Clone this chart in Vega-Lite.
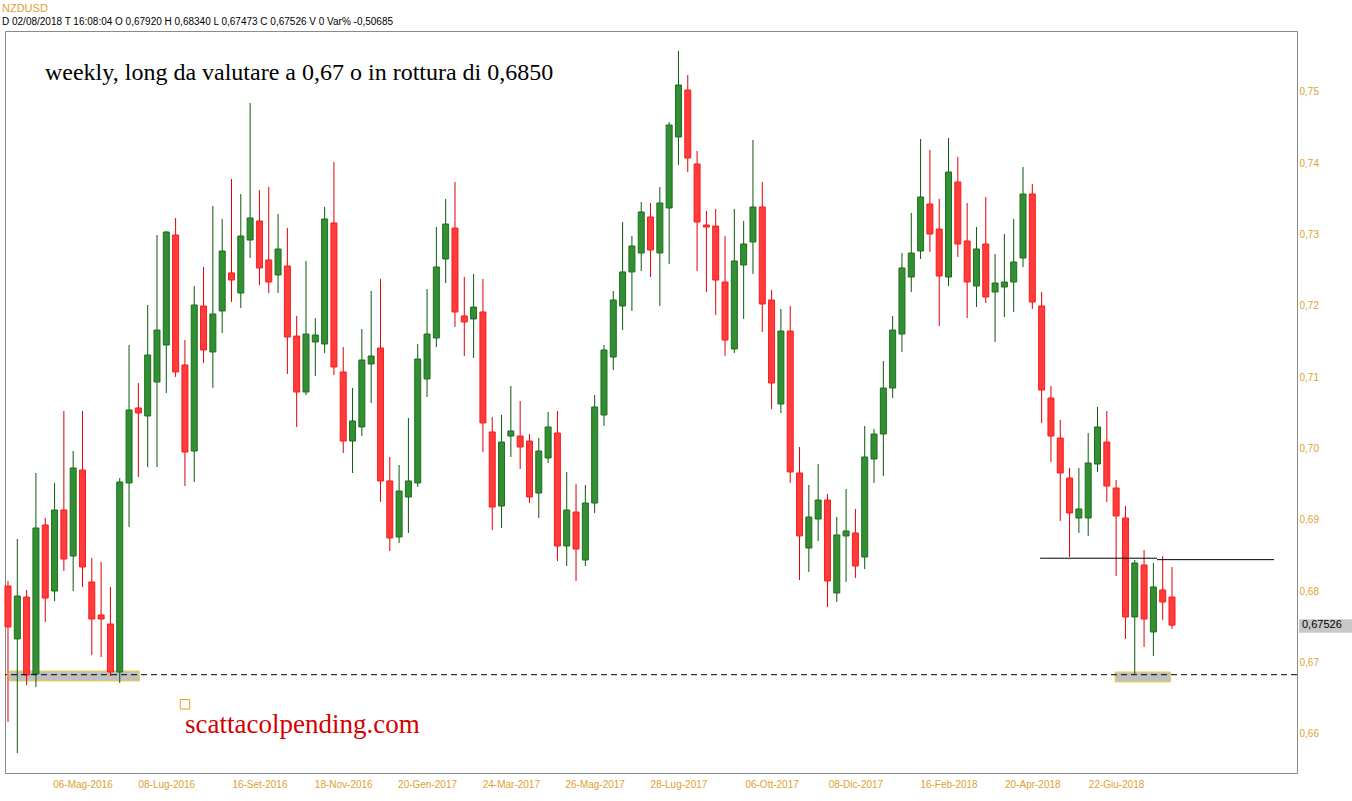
{
  "$schema": "https://vega.github.io/schema/vega-lite/v6.json",
  "width": 1292,
  "height": 742,
  "autosize": {"type": "none"},
  "padding": {"left": 5, "top": 31, "right": 55, "bottom": 28},
  "background": "white",
  "title": {
    "text": "NZDUSD",
    "subtitle": "D 02/08/2018  T 16:08:04  O 0,67920  H 0,68340  L 0,67473  C 0,67526  V 0  Var% -0,50685",
    "anchor": "start", "frame": "group", "orient": "top", "offset": 4, "dx": -3,
    "color": "#E0A030", "font": "Liberation Sans", "fontSize": 11, "fontWeight": "normal",
    "subtitleColor": "#000000", "subtitleFont": "Liberation Sans", "subtitleFontSize": 10, "subtitlePadding": 3
  },
  "config": {
    "view": {"stroke": "#8a8a8a", "strokeWidth": 1},
    "locale": {
      "number": {"decimal": ",", "thousands": ".", "grouping": [3], "currency": ["", " €"]},
      "time": {
        "dateTime": "%A %e %B %Y, %X", "date": "%d/%m/%Y", "time": "%H:%M:%S", "periods": ["AM", "PM"],
        "days": ["Domenica", "Lunedì", "Martedì", "Mercoledì", "Giovedì", "Venerdì", "Sabato"],
        "shortDays": ["Dom", "Lun", "Mar", "Mer", "Gio", "Ven", "Sab"],
        "months": ["Gennaio", "Febbraio", "Marzo", "Aprile", "Maggio", "Giugno", "Luglio", "Agosto", "Settembre", "Ottobre", "Novembre", "Dicembre"],
        "shortMonths": ["Gen", "Feb", "Mar", "Apr", "Mag", "Giu", "Lug", "Ago", "Set", "Ott", "Nov", "Dic"]
      }
    }
  },
  "datasets": {
    "candles": [
      {"d":"2016-03-11","o":0.68074,"h":0.68145,"l":0.66168,"c":0.67500},
      {"d":"2016-03-18","o":0.67332,"h":0.68733,"l":0.65733,"c":0.67934},
      {"d":"2016-03-25","o":0.67920,"h":0.68019,"l":0.66687,"c":0.66827},
      {"d":"2016-04-01","o":0.66841,"h":0.69659,"l":0.66659,"c":0.68888},
      {"d":"2016-04-08","o":0.68930,"h":0.69028,"l":0.67570,"c":0.67906},
      {"d":"2016-04-15","o":0.68004,"h":0.69519,"l":0.67864,"c":0.69140},
      {"d":"2016-04-22","o":0.69140,"h":0.70528,"l":0.68285,"c":0.68453},
      {"d":"2016-04-29","o":0.68495,"h":0.69967,"l":0.68004,"c":0.69729},
      {"d":"2016-05-06","o":0.69701,"h":0.70528,"l":0.68061,"c":0.68341},
      {"d":"2016-05-13","o":0.68131,"h":0.68467,"l":0.67107,"c":0.67612},
      {"d":"2016-05-20","o":0.67668,"h":0.68411,"l":0.67079,"c":0.67612},
      {"d":"2016-05-27","o":0.67542,"h":0.68061,"l":0.66813,"c":0.66869},
      {"d":"2016-06-03","o":0.66869,"h":0.69589,"l":0.66715,"c":0.69533},
      {"d":"2016-06-10","o":0.69519,"h":0.71453,"l":0.68902,"c":0.70542},
      {"d":"2016-06-17","o":0.70570,"h":0.70920,"l":0.69603,"c":0.70500},
      {"d":"2016-06-24","o":0.70458,"h":0.72014,"l":0.69743,"c":0.71313},
      {"d":"2016-07-01","o":0.70934,"h":0.72995,"l":0.69743,"c":0.71663},
      {"d":"2016-07-08","o":0.71453,"h":0.73051,"l":0.70780,"c":0.73037},
      {"d":"2016-07-15","o":0.72995,"h":0.73234,"l":0.71005,"c":0.71075},
      {"d":"2016-07-22","o":0.71173,"h":0.71523,"l":0.69476,"c":0.69953},
      {"d":"2016-07-29","o":0.69967,"h":0.72280,"l":0.69533,"c":0.72014},
      {"d":"2016-08-05","o":0.72000,"h":0.72547,"l":0.71201,"c":0.71383},
      {"d":"2016-08-12","o":0.71355,"h":0.73402,"l":0.70850,"c":0.71888},
      {"d":"2016-08-19","o":0.71930,"h":0.73220,"l":0.71621,"c":0.72771},
      {"d":"2016-08-26","o":0.72463,"h":0.73780,"l":0.72056,"c":0.72364},
      {"d":"2016-09-02","o":0.72182,"h":0.73570,"l":0.71972,"c":0.72981},
      {"d":"2016-09-09","o":0.72925,"h":0.74846,"l":0.72673,"c":0.73234},
      {"d":"2016-09-16","o":0.73192,"h":0.73626,"l":0.72294,"c":0.72533},
      {"d":"2016-09-23","o":0.72645,"h":0.73668,"l":0.72182,"c":0.72336},
      {"d":"2016-09-30","o":0.72435,"h":0.73290,"l":0.72182,"c":0.72799},
      {"d":"2016-10-07","o":0.72561,"h":0.73093,"l":0.71047,"c":0.71565},
      {"d":"2016-10-14","o":0.71579,"h":0.71860,"l":0.70304,"c":0.70794},
      {"d":"2016-10-21","o":0.70794,"h":0.72631,"l":0.70752,"c":0.71607},
      {"d":"2016-10-28","o":0.71495,"h":0.71832,"l":0.71019,"c":0.71593},
      {"d":"2016-11-04","o":0.71467,"h":0.73388,"l":0.71341,"c":0.73220},
      {"d":"2016-11-11","o":0.73164,"h":0.74019,"l":0.71033,"c":0.71145},
      {"d":"2016-11-18","o":0.71075,"h":0.71425,"l":0.69939,"c":0.70107},
      {"d":"2016-11-25","o":0.70107,"h":0.70850,"l":0.69659,"c":0.70388},
      {"d":"2016-12-02","o":0.70304,"h":0.71677,"l":0.70177,"c":0.71243},
      {"d":"2016-12-09","o":0.71187,"h":0.72210,"l":0.70640,"c":0.71299},
      {"d":"2016-12-16","o":0.71411,"h":0.72378,"l":0.69252,"c":0.69547},
      {"d":"2016-12-23","o":0.69547,"h":0.69883,"l":0.68565,"c":0.68748},
      {"d":"2016-12-30","o":0.68762,"h":0.69771,"l":0.68677,"c":0.69406},
      {"d":"2017-01-06","o":0.69322,"h":0.70430,"l":0.68818,"c":0.69547},
      {"d":"2017-01-13","o":0.69519,"h":0.71467,"l":0.69462,"c":0.71257},
      {"d":"2017-01-20","o":0.70977,"h":0.72238,"l":0.70724,"c":0.71607},
      {"d":"2017-01-27","o":0.71551,"h":0.73107,"l":0.71425,"c":0.72547},
      {"d":"2017-02-03","o":0.72659,"h":0.73500,"l":0.72322,"c":0.73149},
      {"d":"2017-02-10","o":0.73093,"h":0.73738,"l":0.71706,"c":0.71916},
      {"d":"2017-02-17","o":0.71860,"h":0.72406,"l":0.71299,"c":0.71776},
      {"d":"2017-02-24","o":0.71818,"h":0.72449,"l":0.71271,"c":0.71986},
      {"d":"2017-03-03","o":0.71916,"h":0.72378,"l":0.69953,"c":0.70360},
      {"d":"2017-03-10","o":0.70234,"h":0.70444,"l":0.68860,"c":0.69182},
      {"d":"2017-03-17","o":0.69196,"h":0.70472,"l":0.68888,"c":0.70093},
      {"d":"2017-03-24","o":0.70177,"h":0.70878,"l":0.69883,"c":0.70248},
      {"d":"2017-03-31","o":0.70177,"h":0.70668,"l":0.69715,"c":0.70023},
      {"d":"2017-04-07","o":0.70107,"h":0.70205,"l":0.69238,"c":0.69322},
      {"d":"2017-04-14","o":0.69378,"h":0.70149,"l":0.69028,"c":0.69967},
      {"d":"2017-04-21","o":0.69869,"h":0.70514,"l":0.69799,"c":0.70304},
      {"d":"2017-04-28","o":0.70219,"h":0.70528,"l":0.68425,"c":0.68635},
      {"d":"2017-05-05","o":0.68635,"h":0.69673,"l":0.68355,"c":0.69140},
      {"d":"2017-05-12","o":0.69112,"h":0.69504,"l":0.68145,"c":0.68593},
      {"d":"2017-05-19","o":0.68439,"h":0.69490,"l":0.68355,"c":0.69238},
      {"d":"2017-05-26","o":0.69238,"h":0.70752,"l":0.69098,"c":0.70584},
      {"d":"2017-06-02","o":0.70472,"h":0.71453,"l":0.70318,"c":0.71383},
      {"d":"2017-06-09","o":0.71285,"h":0.72210,"l":0.71103,"c":0.72084},
      {"d":"2017-06-16","o":0.72000,"h":0.73178,"l":0.71663,"c":0.72477},
      {"d":"2017-06-23","o":0.72477,"h":0.72981,"l":0.71930,"c":0.72841},
      {"d":"2017-06-30","o":0.72743,"h":0.73458,"l":0.72491,"c":0.73318},
      {"d":"2017-07-07","o":0.73248,"h":0.73444,"l":0.72406,"c":0.72785},
      {"d":"2017-07-14","o":0.72743,"h":0.73668,"l":0.72000,"c":0.73444},
      {"d":"2017-07-21","o":0.73374,"h":0.74579,"l":0.72589,"c":0.74537},
      {"d":"2017-07-28","o":0.74369,"h":0.75575,"l":0.73977,"c":0.75098},
      {"d":"2017-08-04","o":0.75028,"h":0.75238,"l":0.73878,"c":0.74075},
      {"d":"2017-08-11","o":0.73991,"h":0.74173,"l":0.72491,"c":0.73178},
      {"d":"2017-08-18","o":0.73135,"h":0.73332,"l":0.72196,"c":0.73107},
      {"d":"2017-08-25","o":0.73121,"h":0.73360,"l":0.71874,"c":0.72364},
      {"d":"2017-09-01","o":0.72336,"h":0.72981,"l":0.71299,"c":0.71523},
      {"d":"2017-09-08","o":0.71397,"h":0.73360,"l":0.71341,"c":0.72631},
      {"d":"2017-09-15","o":0.72575,"h":0.73192,"l":0.71818,"c":0.72869},
      {"d":"2017-09-22","o":0.72897,"h":0.74327,"l":0.72449,"c":0.73388},
      {"d":"2017-09-29","o":0.73388,"h":0.73738,"l":0.71635,"c":0.72028},
      {"d":"2017-10-06","o":0.72084,"h":0.72224,"l":0.70556,"c":0.70920},
      {"d":"2017-10-13","o":0.70626,"h":0.71958,"l":0.70500,"c":0.71649},
      {"d":"2017-10-20","o":0.71649,"h":0.72000,"l":0.69519,"c":0.69673},
      {"d":"2017-10-27","o":0.69659,"h":0.70023,"l":0.68159,"c":0.68776},
      {"d":"2017-11-03","o":0.68607,"h":0.69490,"l":0.68271,"c":0.69042},
      {"d":"2017-11-10","o":0.69014,"h":0.69785,"l":0.68705,"c":0.69280},
      {"d":"2017-11-17","o":0.69280,"h":0.69364,"l":0.67780,"c":0.68145},
      {"d":"2017-11-24","o":0.67976,"h":0.69042,"l":0.67850,"c":0.68790},
      {"d":"2017-12-01","o":0.68776,"h":0.69434,"l":0.68131,"c":0.68846},
      {"d":"2017-12-08","o":0.68818,"h":0.69154,"l":0.68187,"c":0.68355},
      {"d":"2017-12-15","o":0.68481,"h":0.70318,"l":0.68313,"c":0.69883},
      {"d":"2017-12-22","o":0.69855,"h":0.70276,"l":0.69519,"c":0.70205},
      {"d":"2017-12-29","o":0.70205,"h":0.71229,"l":0.69617,"c":0.70850},
      {"d":"2018-01-05","o":0.70850,"h":0.71860,"l":0.70710,"c":0.71663},
      {"d":"2018-01-12","o":0.71607,"h":0.72743,"l":0.71355,"c":0.72533},
      {"d":"2018-01-19","o":0.72406,"h":0.73304,"l":0.72196,"c":0.72743},
      {"d":"2018-01-26","o":0.72771,"h":0.74341,"l":0.72659,"c":0.73528},
      {"d":"2018-02-02","o":0.73430,"h":0.74187,"l":0.72757,"c":0.73009},
      {"d":"2018-02-09","o":0.73079,"h":0.73500,"l":0.71720,"c":0.72420},
      {"d":"2018-02-16","o":0.72406,"h":0.74355,"l":0.72280,"c":0.73878},
      {"d":"2018-02-23","o":0.73738,"h":0.74089,"l":0.72687,"c":0.72869},
      {"d":"2018-03-02","o":0.72911,"h":0.73444,"l":0.71832,"c":0.72336},
      {"d":"2018-03-09","o":0.72280,"h":0.73107,"l":0.71986,"c":0.72799},
      {"d":"2018-03-16","o":0.72869,"h":0.73528,"l":0.72042,"c":0.72126},
      {"d":"2018-03-23","o":0.72196,"h":0.72729,"l":0.71495,"c":0.72322},
      {"d":"2018-03-30","o":0.72266,"h":0.73009,"l":0.71846,"c":0.72336},
      {"d":"2018-04-06","o":0.72336,"h":0.73220,"l":0.71916,"c":0.72617},
      {"d":"2018-04-13","o":0.72673,"h":0.73949,"l":0.72547,"c":0.73570},
      {"d":"2018-04-20","o":0.73570,"h":0.73710,"l":0.71958,"c":0.72056},
      {"d":"2018-04-27","o":0.72000,"h":0.72196,"l":0.70360,"c":0.70822},
      {"d":"2018-05-04","o":0.70710,"h":0.70878,"l":0.69813,"c":0.70177},
      {"d":"2018-05-11","o":0.70149,"h":0.70402,"l":0.68986,"c":0.69659},
      {"d":"2018-05-18","o":0.69589,"h":0.69729,"l":0.68481,"c":0.69098},
      {"d":"2018-05-25","o":0.69028,"h":0.69729,"l":0.68818,"c":0.69154},
      {"d":"2018-06-01","o":0.69028,"h":0.70219,"l":0.68776,"c":0.69799},
      {"d":"2018-06-08","o":0.69785,"h":0.70584,"l":0.69673,"c":0.70304},
      {"d":"2018-06-15","o":0.70093,"h":0.70528,"l":0.69252,"c":0.69476},
      {"d":"2018-06-22","o":0.69448,"h":0.69561,"l":0.68215,"c":0.69056},
      {"d":"2018-06-29","o":0.69028,"h":0.69196,"l":0.67332,"c":0.67640},
      {"d":"2018-07-06","o":0.67640,"h":0.68439,"l":0.66841,"c":0.68397},
      {"d":"2018-07-13","o":0.68369,"h":0.68579,"l":0.67219,"c":0.67612},
      {"d":"2018-07-20","o":0.67430,"h":0.68397,"l":0.67093,"c":0.68061},
      {"d":"2018-07-27","o":0.68019,"h":0.68495,"l":0.67598,"c":0.67850},
      {"d":"2018-08-03","o":0.67920,"h":0.68340,"l":0.67473,"c":0.67526}
    ]
  },
  "layer": [
    {
      "data": {"values": [
        {"d": "2016-03-12T00:00:00Z", "d2": "2016-06-17T17:00:00Z", "v": 0.66883, "v2": 0.66743},
        {"d": "2018-06-21T05:00:00Z", "d2": "2018-08-02T00:00:00Z", "v": 0.66869, "v2": 0.66729}
      ]},
      "mark": {"type": "rect", "fill": "#c0c0c0", "stroke": "#f0d040", "strokeWidth": 1},
      "encoding": {
        "x": {"field": "d", "type": "temporal",
          "scale": {"type": "utc", "padding": 0, "domain": [{"year": 2016, "month": 3, "date": 8, "hours": 17, "minutes": 53, "utc": true}, {"year": 2018, "month": 11, "date": 4, "hours": 23, "utc": true}]},
          "axis": {"title": null, "format": "%d-%b-%Y", "labelColor": "#E0A030", "labelFont": "Liberation Sans", "labelFontSize": 10, "ticks": false, "domain": false, "grid": false, "labelPadding": 6, "labelOverlap": false, "labelFlush": false,
            "values": [
              {"year": 2016, "month": 5, "date": 6, "utc": true},
              {"year": 2016, "month": 7, "date": 8, "utc": true},
              {"year": 2016, "month": 9, "date": 16, "utc": true},
              {"year": 2016, "month": 11, "date": 18, "utc": true},
              {"year": 2017, "month": 1, "date": 20, "utc": true},
              {"year": 2017, "month": 3, "date": 24, "utc": true},
              {"year": 2017, "month": 5, "date": 26, "utc": true},
              {"year": 2017, "month": 7, "date": 28, "utc": true},
              {"year": 2017, "month": 10, "date": 6, "utc": true},
              {"year": 2017, "month": 12, "date": 8, "utc": true},
              {"year": 2018, "month": 2, "date": 16, "utc": true},
              {"year": 2018, "month": 4, "date": 20, "utc": true},
              {"year": 2018, "month": 6, "date": 22, "utc": true}
            ]}},
        "x2": {"field": "d2"},
        "y": {"field": "v", "type": "quantitative",
          "scale": {"domain": [0.65453, 0.75855], "nice": false, "zero": false, "padding": 0},
          "axis": {"title": null, "orient": "right", "format": ".2f", "values": [0.66, 0.67, 0.68, 0.69, 0.70, 0.71, 0.72, 0.73, 0.74, 0.75], "labelColor": "#E0A030", "labelFont": "Liberation Sans", "labelFontSize": 10, "ticks": false, "domain": false, "grid": false, "labelPadding": 2}},
        "y2": {"field": "v2"}
      }
    },
    {
      "data": {"name": "candles"},
      "mark": {"type": "rule", "strokeWidth": 1},
      "encoding": {
        "x": {"field": "d", "type": "temporal"},
        "y": {"field": "l", "type": "quantitative", "title": null},
        "y2": {"field": "h"},
        "color": {"condition": {"test": "datum.c < datum.o", "value": "#e00000"}, "value": "#0a5a0a"}
      }
    },
    {
      "data": {"name": "candles"},
      "mark": {"type": "bar", "size": 6, "strokeWidth": 1},
      "encoding": {
        "x": {"field": "d", "type": "temporal"},
        "y": {"field": "o", "type": "quantitative", "title": null},
        "y2": {"field": "c"},
        "fill": {"condition": {"test": "datum.c < datum.o", "value": "#ff3c3c"}, "value": "#338f33"},
        "stroke": {"condition": {"test": "datum.c < datum.o", "value": "#ff1a1a"}, "value": "#1e6e1e"}
      }
    },
    {
      "data": {"values": [{"v": 0.66831}]},
      "mark": {"type": "rule", "color": "#000000", "strokeWidth": 1, "strokeDash": [6, 4]},
      "encoding": {"y": {"field": "v", "type": "quantitative", "title": null}}
    },
    {
      "data": {"values": [
        {"d": "2018-04-25T19:00:00Z", "d2": "2018-07-22T17:00:00Z", "v": 0.68464},
        {"d": "2018-07-22T17:00:00Z", "d2": "2018-10-18T17:00:00Z", "v": 0.68444}
      ]},
      "mark": {"type": "rule", "color": "#000000", "strokeWidth": 1},
      "encoding": {
        "x": {"field": "d", "type": "temporal"},
        "x2": {"field": "d2"},
        "y": {"field": "v", "type": "quantitative", "title": null}
      }
    },
    {
      "data": {"values": [{"d": "2016-04-07T19:00:00Z", "v": 0.75168, "t": "weekly, long da valutare a 0,67 o in rottura di 0,6850"}]},
      "mark": {"type": "text", "font": "Liberation Serif", "fontSize": 24, "align": "left", "baseline": "alphabetic", "color": "#000000"},
      "encoding": {
        "x": {"field": "d", "type": "temporal"},
        "y": {"field": "v", "type": "quantitative", "title": null},
        "text": {"field": "t"}
      }
    },
    {
      "data": {"values": [{"d": "2016-07-22T01:00:00Z", "v": 0.66013, "t": "scattacolpending.com"}]},
      "mark": {"type": "text", "font": "Liberation Serif", "fontSize": 27, "align": "left", "baseline": "alphabetic", "color": "#d40000"},
      "encoding": {
        "x": {"field": "d", "type": "temporal"},
        "y": {"field": "v", "type": "quantitative", "title": null},
        "text": {"field": "t"}
      }
    },
    {
      "data": {"values": [{"d": "2016-07-22T01:00:00Z", "v": 0.66416}]},
      "mark": {"type": "point", "shape": "square", "size": 90, "filled": false, "stroke": "#E8A020", "strokeWidth": 1, "opacity": 1},
      "encoding": {
        "x": {"field": "d", "type": "temporal"},
        "y": {"field": "v", "type": "quantitative", "title": null}
      }
    },
    {
      "data": {"values": [{"d": "2018-11-06T12:00:00Z", "d2": "2018-12-16T08:00:00Z", "v": 0.67608, "v2": 0.67420}]},
      "mark": {"type": "rect", "fill": "#c8c8c8", "clip": false},
      "encoding": {
        "x": {"field": "d", "type": "temporal"},
        "x2": {"field": "d2"},
        "y": {"field": "v", "type": "quantitative", "title": null},
        "y2": {"field": "v2"}
      }
    },
    {
      "data": {"values": [{"d": "2018-11-08T17:00:00Z", "v": 0.67526, "t": "0,67526"}]},
      "mark": {"type": "text", "font": "Liberation Sans", "fontSize": 11, "align": "left", "baseline": "middle", "color": "#000000", "clip": false},
      "encoding": {
        "x": {"field": "d", "type": "temporal"},
        "y": {"field": "v", "type": "quantitative", "title": null},
        "text": {"field": "t"}
      }
    }
  ]
}
